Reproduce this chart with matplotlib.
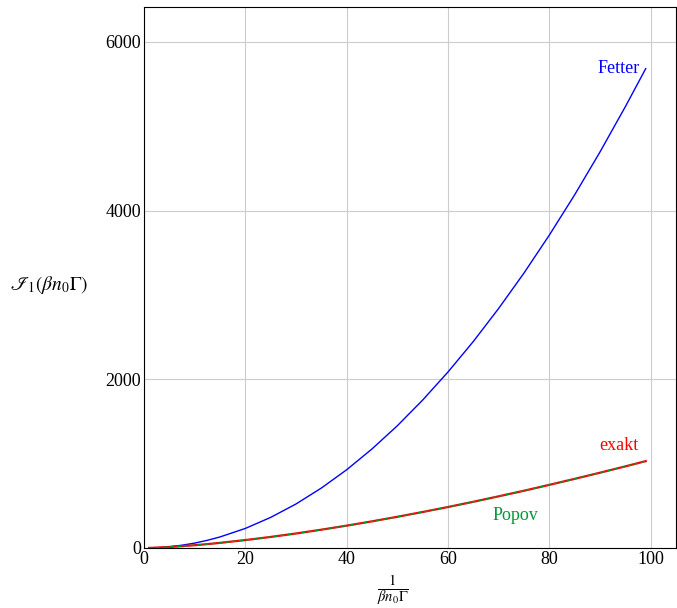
import matplotlib
matplotlib.use("Agg")
import matplotlib.pyplot as plt

plt.rcParams['font.family'] = ['Liberation Serif', 'DejaVu Serif']
plt.rcParams['mathtext.fontset'] = 'stix'

x = [1, 3, 5, 7.5, 10, 12.5, 15, 20, 25, 30, 35, 40, 45, 50, 55, 60, 65, 70, 75, 80, 85, 90, 95, 99]
fetter = [0.6, 5, 15, 33, 58, 91, 131, 232, 363, 522, 711, 928, 1175, 1450, 1755, 2088, 2450,
          2842, 3262, 3712, 4190, 4698, 5235, 5684]
exakt = [1, 5.5, 12, 22, 33, 46, 61, 94, 131, 172, 217, 265, 316, 370, 427, 486, 548,
         613, 679, 749, 820, 893, 968, 1030]
popov = [1, 5.5, 12, 22, 33, 46, 61, 94, 131, 172, 217, 265, 316, 370, 427, 486, 548,
         613, 679, 749, 820, 893, 968, 1030]

fig = plt.figure(figsize=(6.77, 6.08), dpi=100)
ax = fig.add_axes([0.2127, 0.0987, 0.786, 0.8898])

ax.plot(x, fetter, color='blue', lw=1.0)
ax.plot(x, exakt, color='red', lw=1.6)
ax.plot(x, popov, color='#009933', lw=1.0, ls=(0, (3, 2)))

ax.text(97.8, 5690, 'Fetter', color='blue', fontsize=13, ha='right', va='center')
ax.text(93.7, 1210, 'exakt', color='red', fontsize=13, ha='center', va='center')
ax.text(73.2, 380, 'Popov', color='#009933', fontsize=13, ha='center', va='center')

ax.set_xlim(0, 105)
ax.set_ylim(0, 6415)
ax.set_xticks([0, 20, 40, 60, 80, 100])
ax.set_yticks([0, 2000, 4000, 6000])
ax.grid(True, color='#cccccc', lw=0.8)
ax.set_axisbelow(True)
ax.tick_params(direction='in', length=0, labelsize=13, pad=2)

ax.set_xlabel(r'$\frac{1}{\beta n_0 \Gamma}$', fontsize=15)
ax.xaxis.set_label_coords(0.467, -0.048)
ax.set_ylabel(r'$\mathscr{I}_1(\beta n_0 \Gamma)$', fontsize=14, rotation=0,
              ha='center', va='center')
ax.yaxis.set_label_coords(-0.178, 0.486)

fig.savefig('out.png', dpi=100)
